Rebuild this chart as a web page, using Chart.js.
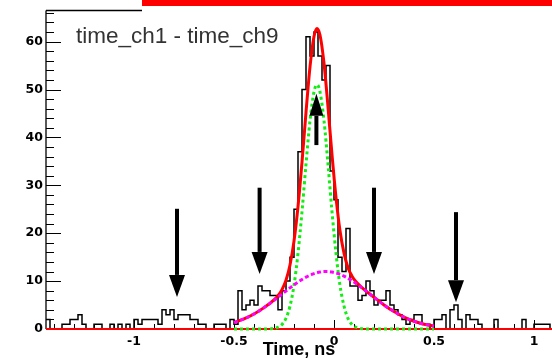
<!DOCTYPE html>
<html><head><meta charset="utf-8">
<script src="https://cdn.jsdelivr.net/npm/chart.js@4.4.1/dist/chart.umd.min.js"></script>
<style>html,body{margin:0;padding:0;background:#fff}#wrap{position:relative;width:552px;height:358px}</style>
</head><body><div id="wrap"><canvas id="c" width="552" height="358"></canvas></div>
<script>
// ---- data ----
const binStart = -1.44;
const binWidth = 0.02;
const counts = [
  2,0,0,0,1,1,2,2,3,1,
  0,0,1,1,0,0,1,0,1,0,
  1,0,2,1,2,2,2,2,1,4,
  3,4,2,3,3,3,2,2,1,1,
  0,0,1,1,1,0,2,1,8,4,
  5,6,5,9,8,8,7,7,4,8,
  10,15,25,37,50,61,57,62,57,52,
  55,33,27,15,12,21,9,9,6,7,
  10,8,5,6,6,8,5,4,3,2,
  1,2,3,3,1,1,0,2,2,3,
  0,4,5,2,0,3,2,2,1,0,
  0,0,2,0,0,0,0,0,0,2,
  0,0,1,1,1,1,0
];
const fitT = [-0.50,-0.45,-0.40,-0.35,-0.30,-0.28,-0.26,-0.24,-0.22,-0.20,-0.18,-0.16,-0.14,-0.12,-0.10,-0.085,-0.07,-0.05,-0.03,-0.01,0.01,0.03,0.05,0.07,0.09,0.11,0.13,0.15,0.20,0.25,0.30,0.35,0.40,0.45,0.50];
const totalFit = [1.35,2.11,3.14,4.46,6.10,6.98,8.23,10.18,13.36,18.34,25.57,34.84,45.22,54.73,61.06,62.75,61.39,55.49,46.39,36.39,27.49,20.51,15.84,12.79,11.03,9.87,9.02,8.29,6.62,5.03,3.64,2.49,1.62,1.00,0.59];
const narrowPeak = [0,0,0,0,0.12,0.36,0.95,2.24,4.77,9.13,15.77,24.5,34.4,43.5,49.5,51.0,49.5,43.5,34.4,24.5,15.8,9.1,4.8,2.2,0.95,0.36,0.12,0.03,0,0,0,0,0,0,0];
const broadPart = [1.35,2.11,3.14,4.45,5.97,6.62,7.28,7.94,8.59,9.21,9.80,10.34,10.82,11.23,11.56,11.75,11.89,11.99,11.99,11.89,11.69,11.41,11.04,10.59,10.08,9.51,8.90,8.26,6.62,5.03,3.64,2.49,1.62,1.00,0.59];
const arrowT    = [-0.785, -0.372, 0.20, 0.61, -0.088];
const arrowFrom = [25.1, 29.5, 29.5, 24.4, 38.4];
const arrowTo   = [6.7, 11.5, 11.5, 5.6, 49.1];
const xTickVals = [-1, -0.5, 0, 0.5, 1];
const yTickVals = [0, 10, 20, 30, 40, 50, 60];
const titleText = 'time_ch1 - time_ch9';
const xTitleText = 'Time, ns';
const xMin = -1.44, xMax = 1.09, yMin = 0, yMax = 66.5;

// ---- build library structures ----
const histPts = counts.map((v, i) => ({x: binStart + i * binWidth, y: v}));
histPts.push({x: binStart + counts.length * binWidth, y: counts[counts.length - 1]});
const toPts = arr => fitT.map((t, i) => ({x: t, y: arr[i]}));

const tickFont = {family: 'DejaVu Sans', size: 12.5, weight: 'bold'};

const decor = {
  id: 'decor',
  beforeDatasetsDraw(chart) {
    const {ctx, chartArea: a, scales: {x, y}} = chart;
    ctx.save();
    ctx.strokeStyle = '#000';
    ctx.lineWidth = 1.3;
    ctx.beginPath();
    ctx.moveTo(a.left, a.top); ctx.lineTo(a.left, a.bottom);
    ctx.moveTo(a.left, a.top); ctx.lineTo(a.left + 96, a.top);
    ctx.moveTo(a.left, a.bottom); ctx.lineTo(a.right, a.bottom);
    ctx.stroke();
    ctx.lineWidth = 1;
    ctx.beginPath();
    for (let v = 0; v <= yMax; v += 2) {
      const py = Math.round(y.getPixelForValue(v)) + 0.5;
      const len = (v % 10 === 0) ? 15 : 8;
      ctx.moveTo(a.left, py); ctx.lineTo(a.left + len, py);
    }
    for (let k = -14; k <= 10; k++) {
      const px = Math.round(x.getPixelForValue(k / 10)) + 0.5;
      const len = (k % 5 === 0) ? 9 : 5;
      ctx.moveTo(px, a.bottom); ctx.lineTo(px, a.bottom - len);
    }
    ctx.stroke();
    ctx.restore();
  },
  afterDatasetsDraw(chart) {
    const {ctx, scales: {x, y}} = chart;
    ctx.save();
    ctx.fillStyle = '#000';
    arrowT.forEach((t, i) => {
      const px = x.getPixelForValue(t);
      const y0 = y.getPixelForValue(arrowFrom[i]);
      const y1 = y.getPixelForValue(arrowTo[i]);
      const dir = Math.sign(y1 - y0);
      const headL = 22, headW = dir < 0 ? 14 : 16, shaftW = 4;
      const yb = y1 - dir * headL;
      ctx.fillRect(px - shaftW / 2, Math.min(y0, yb), shaftW, Math.abs(yb - y0));
      ctx.beginPath();
      ctx.moveTo(px - headW / 2, yb); ctx.lineTo(px + headW / 2, yb); ctx.lineTo(px, y1);
      ctx.closePath(); ctx.fill();
    });
    ctx.restore();
  },
  afterDraw(chart) {
    const {ctx, chartArea: a} = chart;
    ctx.save();
    ctx.fillStyle = '#ff0000';
    ctx.fillRect(142, 0, chart.width - 142, 6);
    ctx.fillStyle = '#333';
    ctx.font = '22.5px "Liberation Sans"';
    ctx.textBaseline = 'alphabetic';
    ctx.fillText(titleText, a.left + 30, 43);
    ctx.restore();
  }
};

new Chart(document.getElementById('c'), {
  type: 'line',
  data: {
    datasets: [
      {data: toPts(broadPart), borderColor: '#ff00ff', borderWidth: 3, borderDash: [4, 2.5], pointRadius: 0, cubicInterpolationMode: 'monotone', order: 1, clip: false},
      {data: toPts(narrowPeak), borderColor: '#11ee11', borderWidth: 3, borderDash: [3, 3], pointRadius: 0, cubicInterpolationMode: 'monotone', order: 2, clip: false},
      {data: toPts(totalFit), borderColor: '#ff0000', borderWidth: 3, pointRadius: 0, cubicInterpolationMode: 'monotone', order: 3, clip: false},
      {data: [{x: xMin, y: 0}, {x: xMax, y: 0}], borderColor: '#ff0000', borderWidth: 2, pointRadius: 0, order: 4, clip: false},
      {data: histPts, borderColor: '#000', borderWidth: 1.5, pointRadius: 0, stepped: 'before', order: 5, clip: false}
    ]
  },
  options: {
    responsive: false,
    animation: false,
    events: [],
    layout: {padding: {top: 7, right: 0, left: 0, bottom: 0}},
    plugins: {legend: {display: false}, tooltip: {enabled: false}, title: {display: false}},
    scales: {
      x: {
        type: 'linear', min: xMin, max: xMax,
        grid: {display: false, drawTicks: false}, border: {display: false},
        ticks: {font: tickFont, color: '#000', padding: 5, maxRotation: 0, autoSkip: false, callback: v => String(v)},
        afterBuildTicks: s => { s.ticks = xTickVals.map(v => ({value: v})); },
        afterFit: s => { s.height = 29; },
        title: {display: true, text: xTitleText, color: '#000', font: {family: 'Liberation Sans', size: 18, weight: 'bold'}, padding: {top: 0, bottom: -3}}
      },
      y: {
        type: 'linear', min: yMin, max: yMax,
        grid: {display: false, drawTicks: false}, border: {display: false},
        ticks: {font: tickFont, color: '#000', padding: 3, autoSkip: false, callback: v => String(v)},
        afterBuildTicks: s => { s.ticks = yTickVals.map(v => ({value: v})); },
        afterFit: s => { s.width = 46; }
      }
    }
  },
  plugins: [decor]
});
</script>
</body></html>
